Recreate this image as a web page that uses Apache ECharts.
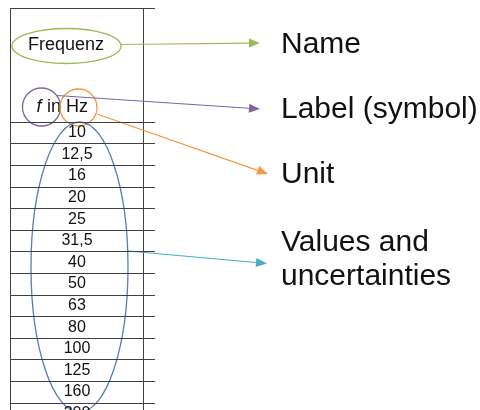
<!DOCTYPE html>
<html>
<head>
<meta charset="utf-8">
<script src="https://cdn.jsdelivr.net/npm/echarts@6/dist/echarts.min.js"></script>
<style>html,body{margin:0;padding:0;background:#fff}#c{width:480px;height:410px}</style>
</head>
<body>
<div id="c"></div>
<script>
// ---- data ----
const rowValues = ['10', '12,5', '16', '20', '25', '31,5', '40', '50', '63', '80', '100', '125', '160', '200'];
const columnName = 'Frequenz';
const quantitySymbol = 'f';
const symbolJoin = 'in';
const unitName = 'Hz';
const annotationLabels = ['Name', 'Label (symbol)', 'Unit', 'Values and\nuncertainties'];

// ---- layout / style ----
const FONT = '"Liberation Sans", Arial, sans-serif';
const LINE = '#404040';
const tableLeft = 10, tableRight = 155, divider = 143.5, tableTop = 8.5, headerBottom = 122, rowH = 21.6;
const colors = { name: '#9BBB59', symbol: '#8064A2', unit: '#F79646', values: '#4F81BD', valuesArrow: '#4BACC6' };

function arrow(x1, y1, x2, y2, color) {
  const dx = x2 - x1, dy = y2 - y1, L = Math.hypot(dx, dy);
  const ux = dx / L, uy = dy / L, len = 11, hw = 4.5;
  const bx = x2 - ux * len, by = y2 - uy * len;
  return [
    { type: 'line', shape: { x1, y1, x2: bx, y2: by }, style: { stroke: color, lineWidth: 1.2 } },
    { type: 'polygon', shape: { points: [[x2, y2], [bx - uy * hw, by + ux * hw], [bx + uy * hw, by - ux * hw]] }, style: { fill: color } }
  ];
}
function txt(x, y, text, size, align, extra) {
  return Object.assign({ type: 'text', x, y, style: Object.assign({ text, fontSize: size, fontFamily: FONT, fill: '#111',
    align: align, textAlign: align, verticalAlign: 'middle', textVerticalAlign: 'middle' }, extra || {}) }, {});
}

const graphic = [
  { type: 'line', shape: { x1: tableLeft, y1: tableTop, x2: tableRight, y2: tableTop }, style: { stroke: LINE, lineWidth: 1 } },
  { type: 'line', shape: { x1: tableLeft + 0.5, y1: tableTop, x2: tableLeft + 0.5, y2: 410 }, style: { stroke: LINE, lineWidth: 1 } },
  { type: 'line', shape: { x1: divider, y1: tableTop, x2: divider, y2: 410 }, style: { stroke: LINE, lineWidth: 1 } },
  txt(66, 45.5, columnName, 18, 'center'),
  txt(36.5, 106.7, quantitySymbol, 18, 'left', { fontStyle: 'italic' }),
  txt(47, 106.7, symbolJoin, 18, 'left'),
  txt(66, 106.7, unitName, 18, 'left'),
  { type: 'ellipse', shape: { cx: 66.5, cy: 46, rx: 54.5, ry: 17.5 }, style: { stroke: colors.name, fill: null, lineWidth: 1.3 } },
  { type: 'circle', shape: { cx: 41.5, cy: 107, r: 19 }, style: { stroke: colors.symbol, fill: null, lineWidth: 1.3 } },
  { type: 'circle', shape: { cx: 78.5, cy: 107.5, r: 18.5 }, style: { stroke: colors.unit, fill: null, lineWidth: 1.3 } },
  { type: 'ellipse', shape: { cx: 79.5, cy: 267, rx: 48.5, ry: 145 }, style: { stroke: colors.values, fill: null, lineWidth: 1.3 } },
  ...arrow(121, 44.5, 260, 43, colors.name),
  ...arrow(57, 95.5, 260, 109, colors.symbol),
  ...arrow(97, 114, 268, 174, colors.unit),
  ...arrow(128, 251, 267, 263.5, colors.valuesArrow),
  txt(281, 45, annotationLabels[0], 30, 'left'),
  txt(281, 109.7, annotationLabels[1], 30, 'left'),
  txt(281, 175, annotationLabels[2], 30, 'left'),
  Object.assign(txt(281, 243, annotationLabels[3].split('\n')[0], 30, 'left')),
  Object.assign(txt(281, 276.5, annotationLabels[3].split('\n')[1], 30, 'left'))
];

const chart = echarts.init(document.getElementById('c'), null, { renderer: 'canvas', width: 480, height: 410 });
chart.setOption({
  animation: false,
  backgroundColor: '#fff',
  grid: { left: tableLeft, top: headerBottom, width: tableRight - tableLeft, height: rowH * rowValues.length, containLabel: false, outerBoundsMode: 'none' },
  xAxis: { type: 'value', min: 0, max: 1, show: false },
  yAxis: {
    type: 'category', inverse: true, data: rowValues, boundaryGap: true,
    axisLine: { show: false }, axisTick: { show: false, interval: 0 },
    splitLine: { show: true, interval: 0, lineStyle: { color: LINE, width: 1 } },
    axisLabel: { inside: true, interval: 0, margin: 67, align: 'center', color: '#111', fontSize: 16, fontFamily: FONT }
  },
  series: [{ type: 'scatter', data: [], silent: true }],
  graphic: { elements: graphic }
});
</script>
</body>
</html>
